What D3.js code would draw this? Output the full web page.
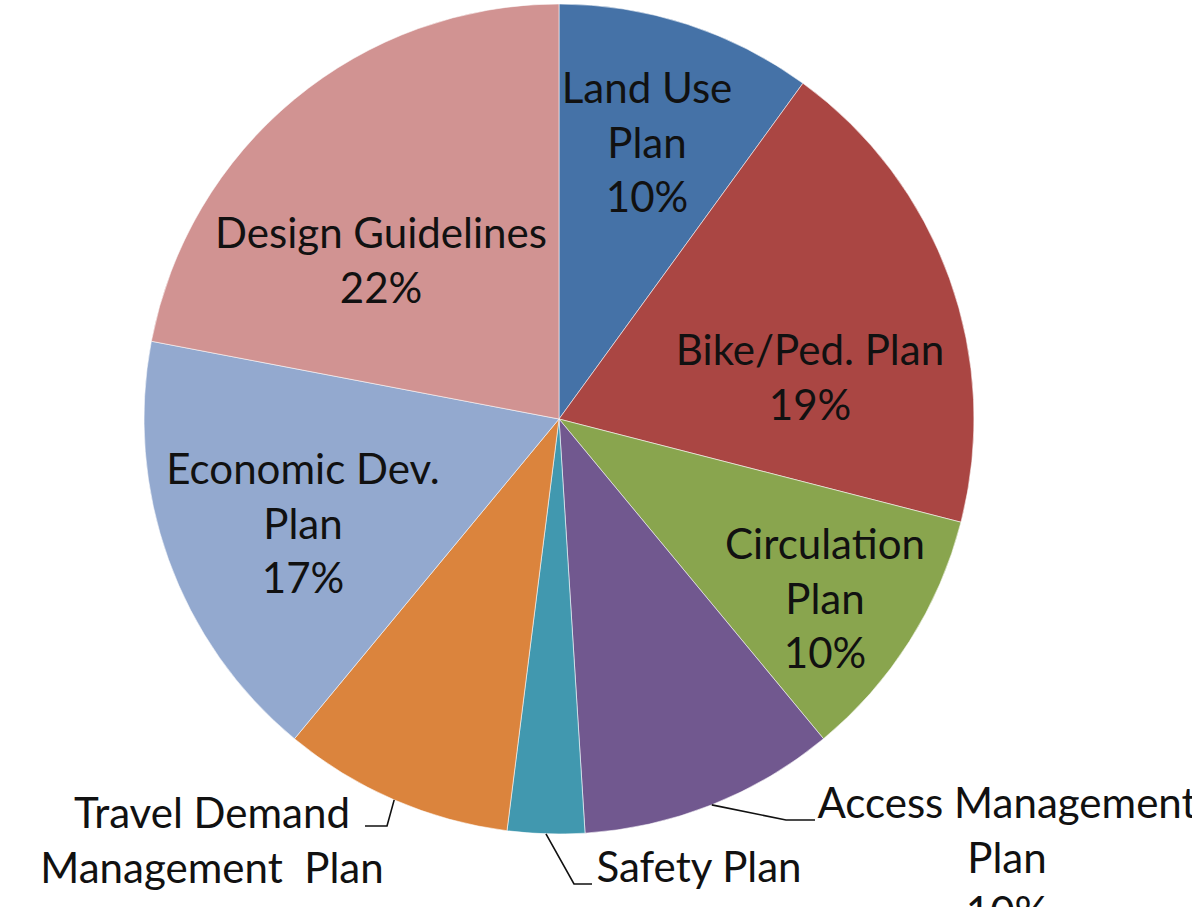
<!DOCTYPE html>
<html>
<head>
<meta charset="utf-8">
<script src="https://cdn.jsdelivr.net/npm/d3@7"></script>
<style>
  html, body { margin: 0; padding: 0; background: #fff; }
  svg { display: block; }
</style>
</head>
<body>
<svg id="chart" width="1192" height="907"></svg>
<script>
// ---- data ----
const categories = ["Land Use Plan", "Bike/Ped. Plan", "Circulation Plan", "Access Management Plan",
                    "Safety Plan", "Travel Demand Management Plan", "Economic Dev. Plan", "Design Guidelines"];
const values = [10, 19, 10, 10, 3, 9, 17, 22];
const labelLines = [
  ["Land Use", "Plan"],
  ["Bike/Ped. Plan"],
  ["Circulation", "Plan"],
  ["Access Management", "Plan"],
  ["Safety Plan"],
  ["Travel Demand", "Management  Plan"],
  ["Economic Dev.", "Plan"],
  ["Design Guidelines"]
];
const colors = ["#4572A7", "#AA4643", "#89A54E", "#71588F", "#4198AF", "#DB843D", "#93A9CF", "#D19392"];

// ---- layout ----
const W = 1192, H = 907;
const cx = 559, cy = 419, R = 415;
const lineH = 54.5;
// label anchor: offset of block centre-x and first baseline from pie centre
const labelAnchor = [
  [88, -316], [251, -54], [266, 140], [448, 399],
  [140, 463], [-347, 409], [-256, 65], [-178, -171]
];
// extra gap before the percentage line (labels running off the bottom edge)
const pctGap = [0, 0, 0, 0, 12, 12, 0, 0];
// leader lines (for outside labels): elbow and end offsets from pie centre
const leaders = {
  3: [[227, 401], [256, 401]],
  4: [[15, 465], [33, 465]],
  5: [[-172, 407], [-194, 407]]
};

const svg = d3.select("#chart");
svg.append("rect").attr("width", W).attr("height", H).attr("fill", "#fff");
const g = svg.append("g").attr("transform", `translate(${cx},${cy})`);

const pie = d3.pie().sort(null).value(d => d);
const arcs = pie(values);
const arc = d3.arc().innerRadius(0).outerRadius(R);

g.selectAll("path.slice").data(arcs).join("path")
  .attr("class", "slice")
  .attr("d", arc)
  .attr("fill", (d, i) => colors[i])
  .attr("stroke", "rgba(255,255,255,0.55)")
  .attr("stroke-width", 1);

// leader lines
Object.keys(leaders).forEach(k => {
  const i = +k;
  const a = (arcs[i].startAngle + arcs[i].endAngle) / 2;
  const start = [Math.sin(a) * R, -Math.cos(a) * R];
  const pts = [start, ...leaders[k]];
  g.append("path")
    .attr("d", d3.line()(pts))
    .attr("fill", "none")
    .attr("stroke", "#111")
    .attr("stroke-width", 1.6);
});

// labels
const fontFamily = "Lato, 'Open Sans', sans-serif";
let fontSize = 37;
// fit font so "Design Guidelines" spans ~332px like the reference
const probe = svg.append("text").attr("font-family", fontFamily).attr("font-size", fontSize).text("Design Guidelines");
const wProbe = probe.node().getComputedTextLength();
probe.remove();
if (wProbe > 0) fontSize = fontSize * 332 / wProbe;

const total = d3.sum(values);
arcs.forEach((d, i) => {
  const lines = labelLines[i].concat([Math.round(values[i] / total * 100) + "%"]);
  const t = g.append("text")
    .attr("font-family", fontFamily)
    .attr("font-size", fontSize)
    .attr("fill", "#111")
    .attr("text-anchor", "middle");
  lines.forEach((ln, j) => {
    const isPct = j === lines.length - 1;
    t.append("tspan")
      .attr("x", labelAnchor[i][0])
      .attr("y", labelAnchor[i][1] + j * lineH + (isPct ? pctGap[i] : 0))
      .attr("xml:space", "preserve")
      .style("white-space", "pre")
      .text(ln);
  });
});
</script>
</body>
</html>
